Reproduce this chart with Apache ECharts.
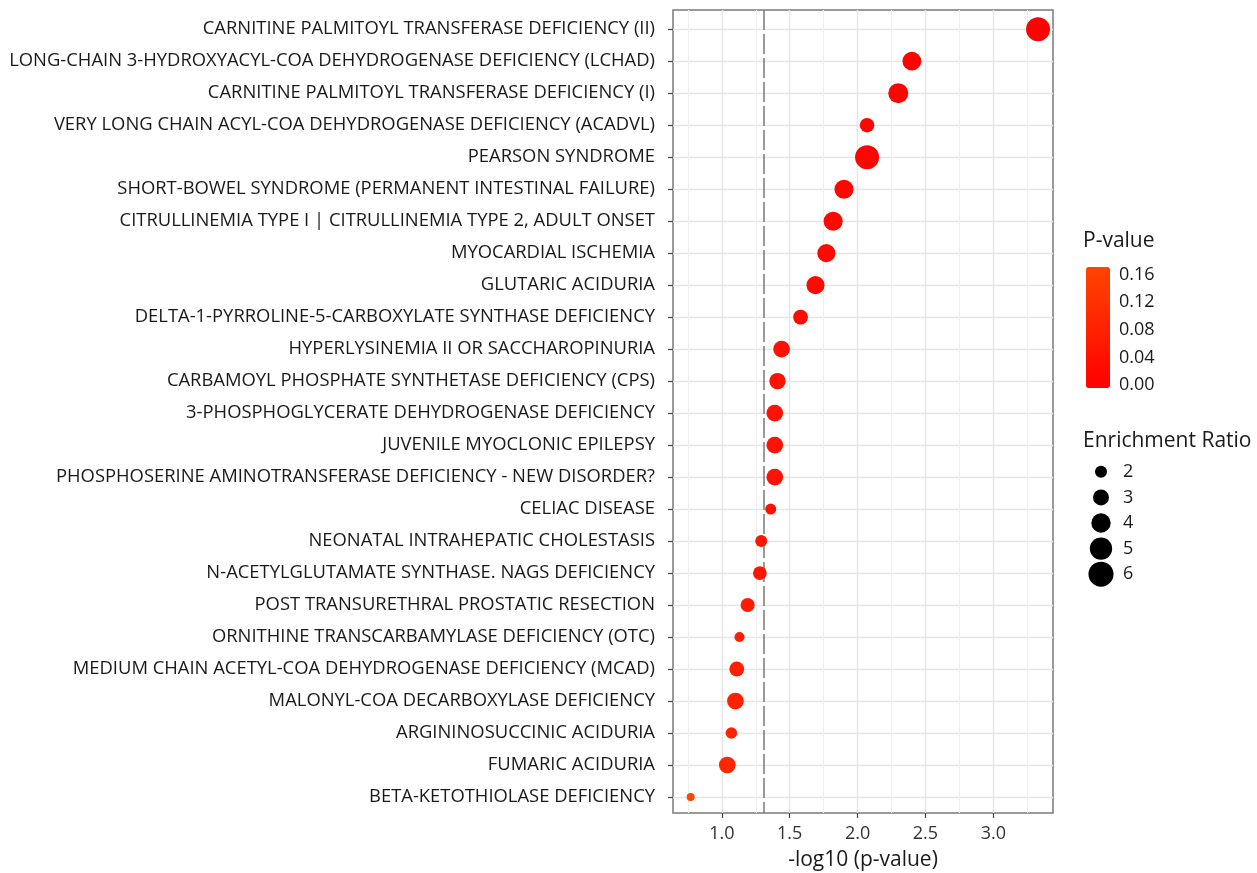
<!DOCTYPE html>
<html>
<head>
<meta charset="utf-8">
<script src="https://cdn.jsdelivr.net/npm/echarts@6/dist/echarts.min.js"></script>
<style>
  html, body { margin: 0; padding: 0; background: #fff; }
  #chart { width: 1257px; height: 873px; }
</style>
</head>
<body>
<div id="chart"></div>
<script>
// ---- data (top to bottom) ----
const categories = [
  'CARNITINE PALMITOYL TRANSFERASE DEFICIENCY (II)',
  'LONG-CHAIN 3-HYDROXYACYL-COA DEHYDROGENASE DEFICIENCY (LCHAD)',
  'CARNITINE PALMITOYL TRANSFERASE DEFICIENCY (I)',
  'VERY LONG CHAIN ACYL-COA DEHYDROGENASE DEFICIENCY (ACADVL)',
  'PEARSON SYNDROME',
  'SHORT-BOWEL SYNDROME (PERMANENT INTESTINAL FAILURE)',
  'CITRULLINEMIA TYPE I | CITRULLINEMIA TYPE 2, ADULT ONSET',
  'MYOCARDIAL ISCHEMIA',
  'GLUTARIC ACIDURIA',
  'DELTA-1-PYRROLINE-5-CARBOXYLATE SYNTHASE DEFICIENCY',
  'HYPERLYSINEMIA II OR SACCHAROPINURIA',
  'CARBAMOYL PHOSPHATE SYNTHETASE DEFICIENCY (CPS)',
  '3-PHOSPHOGLYCERATE DEHYDROGENASE DEFICIENCY',
  'JUVENILE MYOCLONIC EPILEPSY',
  'PHOSPHOSERINE AMINOTRANSFERASE DEFICIENCY - NEW DISORDER?',
  'CELIAC DISEASE',
  'NEONATAL INTRAHEPATIC CHOLESTASIS',
  'N-ACETYLGLUTAMATE SYNTHASE. NAGS DEFICIENCY',
  'POST TRANSURETHRAL PROSTATIC RESECTION',
  'ORNITHINE TRANSCARBAMYLASE DEFICIENCY (OTC)',
  'MEDIUM CHAIN ACETYL-COA DEHYDROGENASE DEFICIENCY (MCAD)',
  'MALONYL-COA DECARBOXYLASE DEFICIENCY',
  'ARGININOSUCCINIC ACIDURIA',
  'FUMARIC ACIDURIA',
  'BETA-KETOTHIOLASE DEFICIENCY'
];
const negLog10P = [3.33, 2.40, 2.30, 2.07, 2.07, 1.90, 1.82, 1.77, 1.69, 1.58,
                   1.44, 1.41, 1.39, 1.39, 1.39, 1.36, 1.29, 1.28, 1.19, 1.13,
                   1.11, 1.10, 1.07, 1.04, 0.77];
const enrichmentRatio = [5.6, 3.8, 4.2, 2.6, 5.6, 3.9, 3.9, 3.6, 3.6, 2.7,
                         3.2, 3.1, 3.2, 3.2, 3.2, 1.8, 2.0, 2.4, 2.5, 1.6,
                         2.7, 3.2, 1.9, 3.2, 1.2];
const xTicks = [1.0, 1.5, 2.0, 2.5, 3.0];
const colorTicks = [0, 0.04, 0.08, 0.12, 0.16];
const sizeLegendValues = [2, 3, 4, 5, 6];
const thresholdX = 1.31;

// ---- helpers ----
function sizeOf(er) { return 12.56 * Math.sqrt(er) - 5.76; }
const FONT = '"Open Sans", sans-serif';
const rowIdx = categories.map((c, i) => i);
const points = categories.map((c, i) => [negLog10P[i], i, enrichmentRatio[i], Math.pow(10, -negLog10P[i]), c]);
const legendPts = sizeLegendValues.map(v => [1, String(v), v]);

const chart = echarts.init(document.getElementById('chart'), null, { renderer: 'canvas' });
chart.setOption({
  animation: false,
  backgroundColor: '#ffffff',
  textStyle: { fontFamily: FONT },
  title: [
    { text: 'P-value', left: 1083, top: 231, padding: 0, textStyle: { fontFamily: FONT, fontSize: 21, fontWeight: 'normal', color: '#1a1a1a' } },
    { text: 'Enrichment Ratio', left: 1083, top: 431, padding: 0, textStyle: { fontFamily: FONT, fontSize: 21, fontWeight: 'normal', color: '#1a1a1a' } }
  ],
  grid: [
    { left: 673, top: 10, width: 380, height: 803, show: true, borderColor: '#7a7a7a', borderWidth: 1.5, backgroundColor: '#fff', containLabel: false, outerBoundsMode: 'none' },
    { left: 1090, top: 459, width: 22, height: 128, containLabel: false, outerBoundsMode: 'none' },
    { left: 1086, top: 267, width: 24, height: 121, containLabel: false, outerBoundsMode: 'none' }
  ],
  xAxis: [
    {
      gridIndex: 0, type: 'value', min: 0.64, max: 3.44, splitNumber: 5,
      minInterval: 0.5, maxInterval: 0.5,
      name: '-log10 (p-value)', nameLocation: 'middle', nameGap: 37,
      nameTextStyle: { fontFamily: FONT, fontSize: 21, color: '#1a1a1a' },
      axisLine: { show: false, onZero: false },
      axisTick: { show: true, length: 5, customValues: xTicks, lineStyle: { color: '#444', width: 1.2 } },
      axisLabel: { customValues: xTicks, fontFamily: FONT, fontSize: 18, color: '#333', margin: 12,
                   formatter: v => v.toFixed(1) },
      splitLine: { show: true, lineStyle: { color: '#e6e6e6', width: 1.4 } },
      minorTick: { show: false, splitNumber: 2 },
      minorSplitLine: { show: true, lineStyle: { color: '#eeeeee', width: 1 } }
    },
    { gridIndex: 1, type: 'value', min: 0, max: 2, show: false },
    { gridIndex: 2, type: 'value', min: 0, max: 1, show: false }
  ],
  yAxis: [
    {
      gridIndex: 0, type: 'value', inverse: true, min: -0.6, max: 24.5,
      minInterval: 1, maxInterval: 1, splitNumber: 25,
      axisLine: { show: false, onZero: false },
      axisTick: { show: true, length: 5, customValues: rowIdx, lineStyle: { color: '#444', width: 1.2 } },
      axisLabel: { customValues: rowIdx, fontFamily: FONT, fontSize: 18.4, color: '#1a1a1a', margin: 18,
                   formatter: v => categories[Math.round(v)] || '' },
      splitLine: { show: true, lineStyle: { color: '#e6e6e6', width: 1.4 } }
    },
    {
      gridIndex: 1, type: 'category', inverse: true, position: 'right',
      data: sizeLegendValues.map(String),
      axisLine: { show: false, onZero: false }, axisTick: { show: false },
      axisLabel: { fontFamily: FONT, fontSize: 18, color: '#1a1a1a', margin: 11 }
    },
    {
      gridIndex: 2, type: 'value', position: 'right', min: -0.004, max: 0.171,
      axisLine: { show: false, onZero: false },
      splitLine: { show: false },
      axisTick: { show: true, inside: true, length: 4, customValues: colorTicks, lineStyle: { color: 'rgba(255,255,255,0.6)', width: 1 } },
      axisLabel: { customValues: colorTicks, fontFamily: FONT, fontSize: 18, color: '#1a1a1a', margin: 9,
                   formatter: v => v.toFixed(2) }
    }
  ],
  visualMap: [{
    type: 'continuous', seriesIndex: 0, dimension: 3,
    min: -0.004, max: 0.171,
    inRange: { color: ['#ff0000', '#ff4500'] },
    orient: 'vertical', left: 1086, top: 267, itemWidth: 24, itemHeight: 121,
    calculable: false, text: null, showLabel: false, hoverLink: false,
    padding: 0, borderWidth: 0
  }],
  series: [
    {
      type: 'scatter', xAxisIndex: 0, yAxisIndex: 0,
      data: points,
      symbol: 'circle',
      symbolSize: val => sizeOf(val[2]),
      itemStyle: { opacity: 1 },
      z: 5,
      markLine: {
        silent: true, symbol: 'none', label: { show: false },
        lineStyle: { type: [20, 4], color: '#7a7a7a', width: 1.5 },
        data: [{ xAxis: thresholdX }],
        z: 3
      }
    },
    {
      type: 'scatter', xAxisIndex: 1, yAxisIndex: 1,
      data: legendPts,
      symbol: 'circle',
      symbolSize: val => sizeOf(val[2]),
      itemStyle: { color: '#000', opacity: 1 }
    }
  ]
});
</script>
</body>
</html>
